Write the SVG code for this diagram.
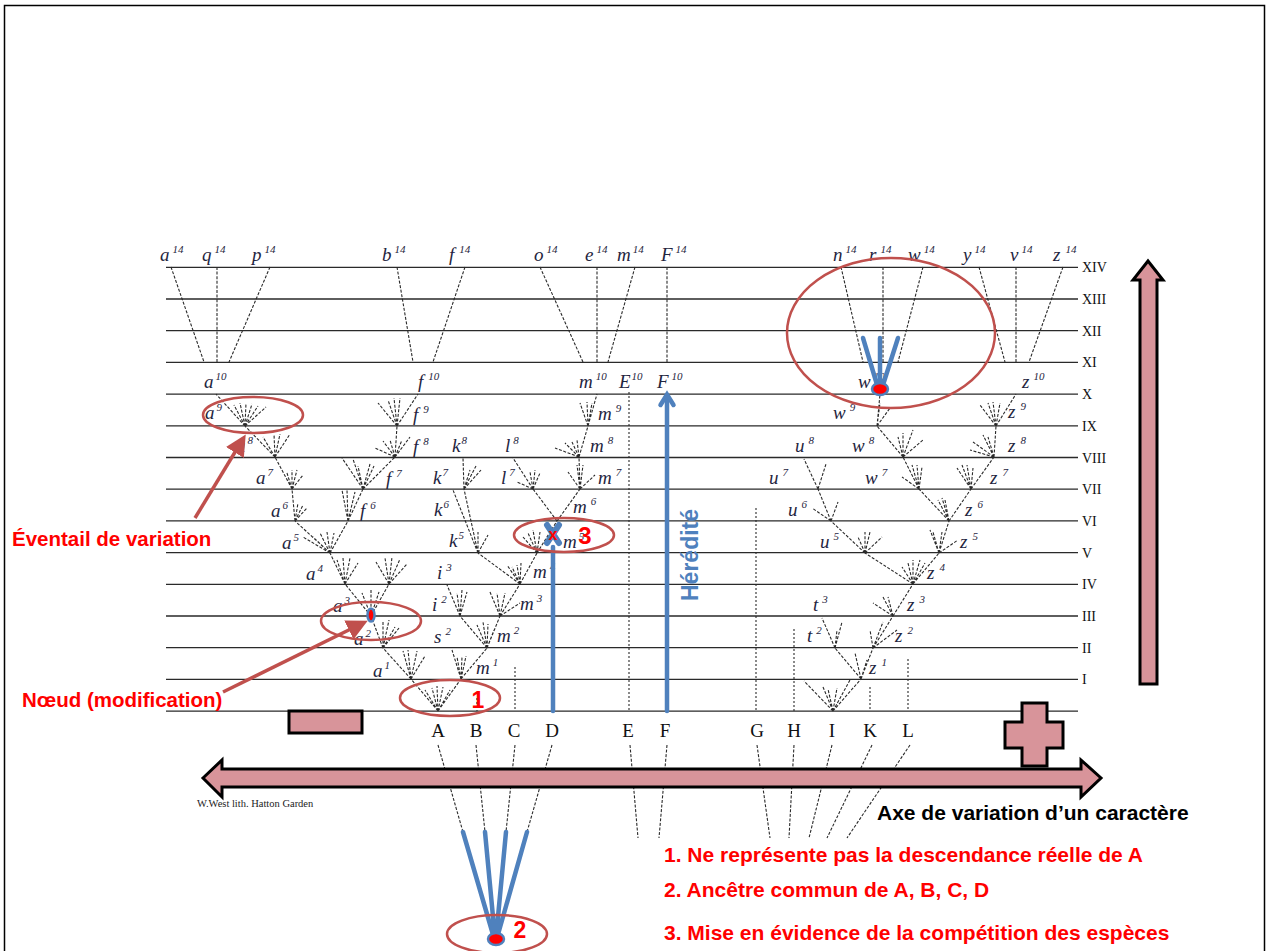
<svg xmlns="http://www.w3.org/2000/svg" width="1268" height="951" viewBox="0 0 1268 951">
<defs>
<style>
.hl{stroke:#2a2a2a;stroke-width:1.3;fill:none}
.dl{stroke:#2a2a2a;stroke-width:1.1;stroke-dasharray:3 1.6;fill:none}
.dt{stroke:#2a2a2a;stroke-width:1.1;stroke-dasharray:2 2;fill:none}
.lb{font-family:"Liberation Serif",serif;font-style:italic;font-size:19px;fill:#1f2540}
.s{font-size:11px}
.rn{font-family:"Liberation Serif",serif;font-size:14px;fill:#111}
.lt{font-family:"Liberation Serif",serif;font-size:19px;fill:#111;text-anchor:middle}
.ov{fill:none;stroke:#c0504d;stroke-width:2.5}
.rt{font-family:"Liberation Sans",Arial,sans-serif;font-weight:bold;fill:#ff0000}
.pk{fill:#d8949a;stroke:#000;stroke-width:3;stroke-linejoin:miter}
.bl{stroke:#4f81bd;stroke-width:4.5;fill:none;stroke-linecap:round}
.ra{stroke:#c0504d;stroke-width:3.5;fill:none;marker-end:url(#ah)}
.dot{fill:#ff0000;stroke:#4f81bd;stroke-width:2.5}
</style>
<marker id="ah" markerWidth="6" markerHeight="6" refX="4.5" refY="3" orient="auto" markerUnits="strokeWidth">
<path d="M0,0 L6,3 L0,6 z" fill="#c0504d"/>
</marker>
</defs>
<rect x="0" y="0" width="1268" height="951" fill="#fff"/>
<rect x="4.5" y="5.5" width="1260" height="950" fill="none" stroke="#000" stroke-width="1.5"/>

<g id="levels">
<path class="hl" d="M166 267.3H1078M166 299H1078M166 330.7H1078M166 362.4H1078M166 394.1H1078M166 425.8H1078M166 457.5H1078M166 489.2H1078M166 520.9H1078M166 552.6H1078M166 584.3H1078M166 616H1078M166 647.7H1078M166 679.4H1078M166 711.1H1078"/>
<g class="rn">
<text x="1082" y="272">XIV</text><text x="1082" y="304">XIII</text><text x="1082" y="336">XII</text><text x="1082" y="367">XI</text><text x="1082" y="399">X</text><text x="1082" y="431">IX</text><text x="1082" y="463">VIII</text><text x="1082" y="494">VII</text><text x="1082" y="526">VI</text><text x="1082" y="558">V</text><text x="1082" y="589">IV</text><text x="1082" y="621">III</text><text x="1082" y="653">II</text><text x="1082" y="684">I</text>
</g>
</g>

<g id="connectors">
<path class="dl" d="M171 267L204 362M217 267L217 362M270 267L229 362M397 267L413 362M465 267L433 362M540 267L583 362M597 267L597 362M635 267L608 362M667 267L667 362M841 267L863 362M883 267L883 362M923 267L898 362M979 267L1005 362M1016 267L1016 362M1063 267L1029 362"/>
<path class="dl" d="M438 711L411 679M438 711L461 679M438 711L425 690M438 711L432 688M438 711L437 686M438 711L443 687M438 711L450 690
M411 679L383 648M411 679L403 651M411 679L408 650M411 679L417 651M411 679L425 656
M383 648L371 616M383 648L383 621M383 648L389 620M383 648L395 627M383 648L399 628
M371 616L345 584M371 616L389 584M371 616L362 593M371 616L371 590M371 616L379 592
M389 584L376 562M389 584L385 558M389 584L392 557M389 584L400 559M389 584L407 564
M345 584L330 553M345 584L337 560M345 584L343 558M345 584L350 558M345 584L358 563
M330 553L295 521M330 553L348 521M330 553L303 537M330 553L313 537M330 553L320 533M330 553L327 532M330 553L334 533
M295 521L292 489M295 521L298 503M295 521L303 505M295 521L307 508
M292 489L275 457M292 489L287 473M292 489L292 470M292 489L297 470M292 489L303 475
M275 457L245 426M275 457L263 437M275 457L274 434M275 457L280 434M275 457L290 434
M245 426L216 394M245 426L234 405M245 426L240 403M245 426L246 403M245 426L252 404M245 426L258 406M245 426L266 407
M348 521L363 489M348 521L342 490M348 521L347 490M348 521L355 492
M363 489L395 457M363 489L342 458M363 489L353 459M363 489L358 466M363 489L370 464M363 489L374 466
M395 457L397 426M395 457L375 448M395 457L383 441M395 457L390 440M395 457L402 440M395 457L410 437
M397 426L418 394M397 426L378 403M397 426L388 400M397 426L394 398M397 426L400 398"/>
<path class="dl" d="M461 679L487 648M461 679L452 650M461 679L462 657M461 679L466 656M461 679L457 657
M487 648L460 616M487 648L500 616M487 648L477 625M487 648L483 622M487 648L488 624M487 648L494 630
M460 616L447 585M460 616L457 593M460 616L462 590M460 616L467 592
M500 616L520 584M500 616L490 592M500 616L497 593M500 616L505 593M500 616L520 603
M520 584L478 553M520 584L537 553M520 584L507 565M520 584L512 567M520 584L517 565M520 584L521 563
M478 553L464 489M478 553L453 490M478 553L478 532M478 553L488 535
M464 489L463 458M464 489L470 470M464 489L476 466M464 489L481 470
M537 553L557 521M537 553L523 537M537 553L528 533M537 553L533 530M537 553L540 532
M557 521L533 489M557 521L580 489
M533 489L513 458M533 489L517 482M533 489L530 472M533 489L535 470M533 489L540 473
M580 489L579 457M580 489L568 472M580 489L577 465M580 489L583 465M580 489L595 475
M579 457L588 426M579 457L555 448M579 457L565 443M579 457L572 442M579 457L577 440
M588 426L597 394M588 426L580 403M588 426L587 402M588 426L592 403"/>
<path class="dl" d="M833 711L861 679M833 711L804 681M833 711L823 687M833 711L828 689M833 711L837 688M833 711L850 680
M861 679L835 648M861 679L873 648M861 679L855 653M861 679L867 660
M835 648L822 618M835 648L837 630M835 648L842 622
M873 648L893 616M873 648L870 630M873 648L883 622M873 648L897 630
M893 616L913 584M893 616L873 603M893 616L883 597M893 616L888 597
M913 584L865 553M913 584L939 553M913 584L902 567M913 584L908 563M913 584L913 560M913 584L920 560M913 584L925 563
M865 553L831 521M865 553L858 537M865 553L865 532M865 553L870 532M865 553L882 537
M831 521L818 489M831 521L812 508M831 521L838 502
M818 489L804 459M818 489L826 464
M939 553L949 521M939 553L930 530M939 553L933 532M939 553L942 532M939 553L958 540
M949 521L919 489M949 521L971 489M949 521L938 500M949 521L942 498M949 521L945 500
M919 489L903 457M919 489L902 477M919 489L912 465M919 489L917 465M919 489L922 467
M971 489L994 457M971 489L957 468M971 489L962 465M971 489L967 465M971 489L973 468
M903 457L877 426M903 457L898 437M903 457L903 433M903 457L913 430M903 457L923 440
M994 457L996 426M994 457L970 450M994 457L973 442M994 457L983 435M994 457L988 437
M877 426L880 394M877 426L880 403M877 426L890 408
M996 426L1016 394M996 426L980 405M996 426L988 403M996 426L993 402M996 426L1000 403"/>
<path class="dt" d="M629 392V711M756 508V711M794 629V711M870 687V711M908 659V711M515 667V711M477 698V711"/>
<path class="dl" d="M438 745L463 832M476 745L485 832M515 745L506 832M552 745L527 832M630 745L638 838M667 745L659 838M757 745L770 838M794 745L789 838M832 745L809 838M872 745L827 838M910 745L847 838"/>
</g>

<g id="labels" class="lb">
<text x="160" y="261">a<tspan class="s" dx="3" dy="-8">14</tspan></text>
<text x="202" y="261">q<tspan class="s" dx="3" dy="-8">14</tspan></text>
<text x="252" y="261">p<tspan class="s" dx="3" dy="-8">14</tspan></text>
<text x="382" y="261">b<tspan class="s" dx="3" dy="-8">14</tspan></text>
<text x="449" y="261">f<tspan class="s" dx="5" dy="-8">14</tspan></text>
<text x="534" y="261">o<tspan class="s" dx="3" dy="-8">14</tspan></text>
<text x="585" y="261">e<tspan class="s" dx="3" dy="-8">14</tspan></text>
<text x="617" y="261">m<tspan class="s" dx="2" dy="-8">14</tspan></text>
<text x="661" y="261">F<tspan class="s" dx="3" dy="-8">14</tspan></text>
<text x="833" y="261">n<tspan class="s" dx="3" dy="-8">14</tspan></text>
<text x="869" y="261">r<tspan class="s" dx="4" dy="-8">14</tspan></text>
<text x="908" y="261">w<tspan class="s" dx="3" dy="-8">14</tspan></text>
<text x="963" y="261">y<tspan class="s" dx="3" dy="-8">14</tspan></text>
<text x="1010" y="261">v<tspan class="s" dx="3" dy="-8">14</tspan></text>
<text x="1053" y="261">z<tspan class="s" dx="5" dy="-8">14</tspan></text>
<text x="204" y="388">a<tspan class="s" dx="2" dy="-8">10</tspan></text>
<text x="418" y="388">f<tspan class="s" dx="5" dy="-8">10</tspan></text>
<text x="579" y="388">m<tspan class="s" dx="3" dy="-8">10</tspan></text>
<text x="619" y="388">E<tspan class="s" dx="1" dy="-8">10</tspan></text>
<text x="657" y="388">F<tspan class="s" dx="3" dy="-8">10</tspan></text>
<text x="858" y="388">w<tspan class="s" dx="3" dy="-8">10</tspan></text>
<text x="1022" y="388">z<tspan class="s" dx="4" dy="-8">10</tspan></text>
<text x="205" y="419">a<tspan class="s" dx="2" dy="-8">9</tspan></text>
<text x="236" y="452">a<tspan class="s" dx="2" dy="-8">8</tspan></text>
<text x="256" y="484">a<tspan class="s" dx="2" dy="-8">7</tspan></text>
<text x="271" y="517">a<tspan class="s" dx="2" dy="-8">6</tspan></text>
<text x="282" y="549">a<tspan class="s" dx="2" dy="-8">5</tspan></text>
<text x="306" y="580">a<tspan class="s" dx="2" dy="-8">4</tspan></text>
<text x="333" y="612">a<tspan class="s" dx="2" dy="-8">3</tspan></text>
<text x="354" y="645">a<tspan class="s" dx="2" dy="-8">2</tspan></text>
<text x="373" y="677">a<tspan class="s" dx="2" dy="-8">1</tspan></text>
<text x="413" y="421">f<tspan class="s" dx="5" dy="-8">9</tspan></text>
<text x="413" y="453">f<tspan class="s" dx="5" dy="-8">8</tspan></text>
<text x="386" y="485">f<tspan class="s" dx="5" dy="-8">7</tspan></text>
<text x="360" y="517">f<tspan class="s" dx="5" dy="-8">6</tspan></text>
<text x="452" y="452">k<tspan class="s" dx="1" dy="-8">8</tspan></text>
<text x="433" y="484">k<tspan class="s" dx="1" dy="-8">7</tspan></text>
<text x="434" y="516">k<tspan class="s" dx="1" dy="-8">6</tspan></text>
<text x="449" y="547">k<tspan class="s" dx="1" dy="-8">5</tspan></text>
<text x="437" y="579">i<tspan class="s" dx="4" dy="-8">3</tspan></text>
<text x="432" y="611">i<tspan class="s" dx="4" dy="-8">2</tspan></text>
<text x="434" y="643">s<tspan class="s" dx="4" dy="-8">2</tspan></text>
<text x="476" y="674">m<tspan class="s" dx="3" dy="-8">1</tspan></text>
<text x="497" y="642">m<tspan class="s" dx="3" dy="-8">2</tspan></text>
<text x="520" y="610">m<tspan class="s" dx="3" dy="-8">3</tspan></text>
<text x="533" y="578">m<tspan class="s" dx="3" dy="-8">4</tspan></text>
<text x="563" y="548">m<tspan class="s" dx="2" dy="-8">5</tspan></text>
<text x="573" y="513">m<tspan class="s" dx="4" dy="-8">6</tspan></text>
<text x="598" y="484">m<tspan class="s" dx="4" dy="-8">7</tspan></text>
<text x="590" y="452">m<tspan class="s" dx="4" dy="-8">8</tspan></text>
<text x="598" y="420">m<tspan class="s" dx="4" dy="-8">9</tspan></text>
<text x="505" y="452">l<tspan class="s" dx="3" dy="-8">8</tspan></text>
<text x="501" y="484">l<tspan class="s" dx="3" dy="-8">7</tspan></text>
<text x="833" y="419">w<tspan class="s" dx="4" dy="-8">9</tspan></text>
<text x="795" y="452">u<tspan class="s" dx="4" dy="-8">8</tspan></text>
<text x="852" y="452">w<tspan class="s" dx="4" dy="-8">8</tspan></text>
<text x="769" y="484">u<tspan class="s" dx="4" dy="-8">7</tspan></text>
<text x="865" y="484">w<tspan class="s" dx="4" dy="-8">7</tspan></text>
<text x="788" y="516">u<tspan class="s" dx="4" dy="-8">6</tspan></text>
<text x="820" y="548">u<tspan class="s" dx="4" dy="-8">5</tspan></text>
<text x="1008" y="418">z<tspan class="s" dx="5" dy="-8">9</tspan></text>
<text x="1008" y="452">z<tspan class="s" dx="5" dy="-8">8</tspan></text>
<text x="990" y="484">z<tspan class="s" dx="5" dy="-8">7</tspan></text>
<text x="965" y="516">z<tspan class="s" dx="5" dy="-8">6</tspan></text>
<text x="960" y="548">z<tspan class="s" dx="5" dy="-8">5</tspan></text>
<text x="927" y="579">z<tspan class="s" dx="5" dy="-8">4</tspan></text>
<text x="907" y="611">z<tspan class="s" dx="5" dy="-8">3</tspan></text>
<text x="895" y="642">z<tspan class="s" dx="5" dy="-8">2</tspan></text>
<text x="869" y="674">z<tspan class="s" dx="5" dy="-8">1</tspan></text>
<text x="813" y="611">t<tspan class="s" dx="4" dy="-8">3</tspan></text>
<text x="807" y="642">t<tspan class="s" dx="4" dy="-8">2</tspan></text>
</g>

<g id="species" class="lt">
<text x="438" y="737">A</text><text x="476" y="737">B</text><text x="514" y="737">C</text><text x="552" y="737">D</text><text x="628" y="737">E</text><text x="665" y="737">F</text><text x="757" y="737">G</text><text x="794" y="737">H</text><text x="832" y="737">I</text><text x="870" y="737">K</text><text x="908" y="737">L</text>
</g>

<g id="axis-arrow">
<polygon class="pk" points="203,778 222,760 222,769 1081,769 1081,760 1101,778 1081,797 1081,787 222,787 222,797"/>
</g>
<g id="minus"><rect class="pk" x="289" y="711" width="73" height="22"/></g>
<g id="plus"><polygon class="pk" points="1022,703 1047,703 1047,722 1063,722 1063,748 1047,748 1047,766 1022,766 1022,748 1005,748 1005,722 1022,722"/></g>
<g id="time-arrow"><polygon class="pk" points="1148,261 1163,280 1157,280 1157,684 1140,684 1140,280 1133,280"/></g>

<g id="heredity">
<line class="bl" x1="667" y1="711" x2="667" y2="397" stroke-width="3.5"/>
<path class="bl" d="M660.5 405L667 394.5L673.5 405" stroke-width="3.5"/>
<text transform="translate(698,555) rotate(-90)" text-anchor="middle" font-family="Liberation Sans,Arial,sans-serif" font-weight="bold" font-size="23" fill="#4f81bd">Hérédité</text>
</g>

<g id="competition">
<line class="bl" x1="553" y1="711" x2="553" y2="547" stroke-width="5"/>
<path d="M547 525L559 543M559 525L547 543" stroke="#4f81bd" stroke-width="6" stroke-linecap="round"/>
<text class="rt" x="553" y="540" font-size="16" text-anchor="middle">x</text>
<ellipse class="ov" cx="564" cy="535" rx="50" ry="17"/>
<text class="rt" x="585" y="544" font-size="24" text-anchor="middle">3</text>
</g>

<g id="note1">
<ellipse class="ov" cx="450" cy="698" rx="50" ry="18"/>
<text class="rt" x="478" y="708" font-size="23" text-anchor="middle">1</text>
</g>

<g id="eventail">
<ellipse class="ov" cx="253" cy="415" rx="50" ry="18"/>
<line class="ra" x1="195" y1="518" x2="243" y2="439"/>
<text class="rt" x="12" y="546" font-size="20.5">Éventail de variation</text>
</g>

<g id="noeud">
<ellipse class="ov" cx="371" cy="621" rx="50" ry="19"/>
<ellipse class="dot" cx="371" cy="615" rx="3.5" ry="6.5" stroke-width="2"/>
<line class="ra" x1="223" y1="692" x2="363" y2="623"/>
<text class="rt" x="22" y="707" font-size="20.5">Nœud (modification)</text>
</g>

<g id="ancestor-w">
<ellipse class="ov" cx="891" cy="333" rx="104" ry="75"/>
<path class="bl" d="M863 338L878 388M880 338L880 388M898 338L882 388"/>
<ellipse class="dot" cx="880" cy="389" rx="8" ry="6"/>
</g>

<g id="ancestor-abcd">
<path class="bl" d="M463 832L494 938M485 832L495 938M506 832L496 938M527 832L497 938"/>
<ellipse class="ov" cx="497" cy="934" rx="50" ry="19"/>
<ellipse class="dot" cx="496" cy="939" rx="8" ry="6"/>
<text class="rt" x="520" y="938" font-size="23" text-anchor="middle">2</text>
</g>

<text x="197" y="807" font-family="Liberation Serif,serif" font-size="10.5" fill="#222">W.West lith. Hatton Garden</text>
<text x="877" y="820" font-family="Liberation Sans,Arial,sans-serif" font-weight="bold" font-size="21" fill="#000">Axe de variation d’un caractère</text>
<g id="notes" class="rt" font-size="21">
<text x="664" y="862">1. Ne représente pas la descendance réelle de A</text>
<text x="664" y="897">2. Ancêtre commun de A, B, C, D</text>
<text x="664" y="940">3. Mise en évidence de la compétition des espèces</text>
</g>
</svg>
